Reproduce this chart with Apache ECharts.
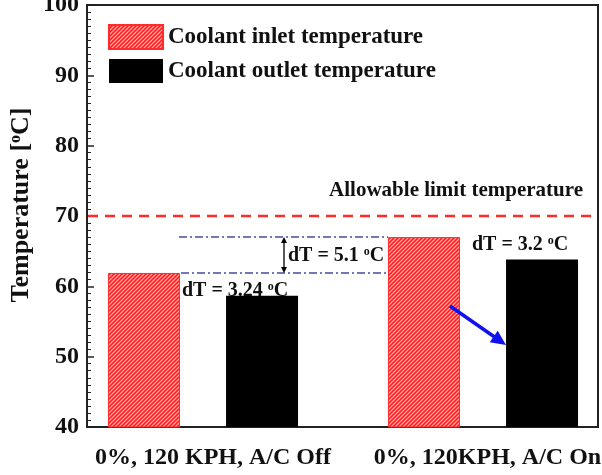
<!DOCTYPE html>
<html><head><meta charset="utf-8">
<script src="https://cdn.jsdelivr.net/npm/echarts@6.0.0/dist/echarts.min.js"></script>
<style>html,body{margin:0;padding:0;background:#fff}#c{width:602px;height:475px}</style>
</head><body><div id="c"></div>
<script>
// ---- data ----
const categories = ['0%, 120 KPH, A/C Off', '0%, 120KPH, A/C On'];
const seriesNames = ['Coolant inlet temperature', 'Coolant outlet temperature'];
const inletTemp = [61.9, 67.0];
const outletTemp = [58.66, 63.8];
const yTicks = [40, 50, 60, 70, 80, 90, 100];
const limitTemp = 70;
const limitLabel = 'Allowable limit temperature';
const dTTexts = ['dT = 3.24 ', 'dT = 5.1 ', 'dT = 3.2 '];
const yTitle = 'Temperature';

// ---- styling ----
const FF = '"Liberation Serif", "Times New Roman", serif';
const TXT = '#111';

function hatch() {
  const c = document.createElement('canvas'); c.width = 4; c.height = 4;
  const g = c.getContext('2d');
  g.fillStyle = '#ffb8b8'; g.fillRect(0, 0, 4, 4);
  g.strokeStyle = '#ff1f1f'; g.lineWidth = 1.6;
  g.beginPath();
  g.moveTo(-1, 5); g.lineTo(5, -1);
  g.moveTo(-3, 3); g.lineTo(3, -3);
  g.moveTo(1, 7); g.lineTo(7, 1);
  g.stroke();
  return c;
}
const hatchFill = { image: hatch(), repeat: 'repeat' };

const chart = echarts.init(document.getElementById('c'), null, { renderer: 'canvas' });
const catPad = [20, 9];
const option = {
  animation: false,
  backgroundColor: '#fff',
  grid: [
    { left: 87, right: 4, top: 5, bottom: 48, show: true, borderColor: '#222', borderWidth: 2, backgroundColor: 'transparent', outerBoundsMode: 'none', containLabel: false },
    { left: 63, right: -21, top: 5, bottom: 48, outerBoundsMode: 'none', containLabel: false }
  ],
  legend: {
    orient: 'vertical', left: 103, top: 19, itemWidth: 54, itemHeight: 24, itemGap: 9, icon: 'rect',
    data: seriesNames,
    textStyle: { fontFamily: FF, fontSize: 23, fontWeight: 'bold', color: TXT }
  },
  xAxis: [
    { gridIndex: 0, type: 'category', data: categories, show: false },
    {
      gridIndex: 1, type: 'category',
      data: categories.map((c, i) => ({ value: c, textStyle: { padding: [0, 0, 0, catPad[i]] } })),
      axisLine: { show: false }, axisTick: { show: false }, splitLine: { show: false },
      axisLabel: { interval: 0, hideOverlap: false, margin: 19, fontFamily: FF, fontSize: 24, fontWeight: 'bold', color: TXT }
    }
  ],
  yAxis: [
    {
      gridIndex: 0, type: 'value', min: yTicks[0], max: yTicks[yTicks.length - 1], interval: yTicks[1] - yTicks[0],
      axisLine: { show: true, lineStyle: { color: '#222', width: 2 } },
      axisTick: { show: true, inside: true, length: 7, lineStyle: { color: '#222', width: 1.5 } },
      minorTick: { show: true, splitNumber: 10, length: 4, lineStyle: { color: '#222', width: 1 } },
      splitLine: { show: false },
      axisLabel: { margin: 8, fontFamily: FF, fontSize: 24, fontWeight: 'bold', color: TXT }
    },
    { gridIndex: 1, type: 'value', min: yTicks[0], max: yTicks[yTicks.length - 1], show: false }
  ],
  series: [
    {
      name: seriesNames[0], type: 'bar', xAxisIndex: 1, yAxisIndex: 1, data: inletTemp,
      barWidth: 72, barGap: '64%', z: 3,
      itemStyle: { color: hatchFill, borderColor: '#ff2a2a', borderWidth: 1 }
    },
    {
      name: seriesNames[1], type: 'bar', xAxisIndex: 1, yAxisIndex: 1, data: outletTemp,
      barWidth: 72, barGap: '64%', z: 3,
      itemStyle: { color: '#000' }
    }
  ]
};
chart.setOption(option);

const py = v => chart.convertToPixel({ yAxisIndex: 0 }, v);
const supRich = (fs) => ({
  s: { fontFamily: FF, fontWeight: 'bold', fontSize: Math.round(fs * 0.6), verticalAlign: 'top', fill: TXT }
});
function label(text, x, y, fs, extra, z) {
  return {
    type: 'text', x: x, y: y, z: z == null ? 50 : z,
    style: Object.assign({ text: text, fontFamily: FF, fontWeight: 'bold', fontSize: fs, fill: TXT,
      align: 'left', verticalAlign: 'middle', rich: supRich(fs) }, extra || {})
  };
}
function arrowHead(x, y, angle, len, wid, color) {
  const ca = Math.cos(angle), sa = Math.sin(angle);
  const bx = x - ca * len, by = y - sa * len;
  return {
    type: 'polygon', z: 50,
    shape: { points: [[x, y], [bx - sa * wid, by + ca * wid], [bx + sa * wid, by - ca * wid]] },
    style: { fill: color }
  };
}

const yLim = py(limitTemp);
const yTop = py(inletTemp[1]);
const yBot = py(inletTemp[0]);
const ax = 284;
const a1 = [450, 306], a2 = [506, 345];
const aAng = Math.atan2(a2[1] - a1[1], a2[0] - a1[0]);

const graphics = [
  { type: 'line', z: 40, shape: { x1: 88, y1: yLim, x2: 597, y2: yLim }, style: { stroke: '#ff2b2b', lineWidth: 2.5, lineDash: [10, 7] } },
  label(limitLabel, 583, 191, 21, { align: 'right' }),
  { type: 'line', z: 40, shape: { x1: 179, y1: yTop, x2: 388, y2: yTop }, style: { stroke: '#4a4aa8', lineWidth: 1.5, lineDash: [8, 3, 2, 3] } },
  { type: 'line', z: 40, shape: { x1: 181, y1: yBot, x2: 388, y2: yBot }, style: { stroke: '#4a4aa8', lineWidth: 1.5, lineDash: [8, 3, 2, 3] } },
  { type: 'line', z: 50, shape: { x1: ax, y1: yTop + 5, x2: ax, y2: yBot - 5 }, style: { stroke: '#000', lineWidth: 1.3 } },
  arrowHead(ax, yTop, -Math.PI / 2, 6, 3, '#000'),
  arrowHead(ax, yBot, Math.PI / 2, 6, 3, '#000'),
  label(dTTexts[1] + '{s|o}C', 288, (yTop + yBot) / 2 + 1, 20),
  label(dTTexts[0] + '{s|o}C', 182, 291, 20, null, 1),
  label(dTTexts[2] + '{s|o}C', 472, 245, 20),
  { type: 'line', z: 50, shape: { x1: a1[0], y1: a1[1], x2: a2[0] - Math.cos(aAng) * 10, y2: a2[1] - Math.sin(aAng) * 10 }, style: { stroke: '#1010f0', lineWidth: 3.5 } },
  arrowHead(a2[0], a2[1], aAng, 15, 7, '#1010f0'),
  {
    type: 'text', x: 21, y: 205, rotation: Math.PI / 2, z: 50,
    style: { text: yTitle + ' [{s|o}C]', fontFamily: FF, fontWeight: 'bold', fontSize: 26, fill: TXT,
      align: 'center', verticalAlign: 'middle', rich: supRich(26) }
  }
];
chart.setOption({ graphic: graphics });
</script>
</body></html>
